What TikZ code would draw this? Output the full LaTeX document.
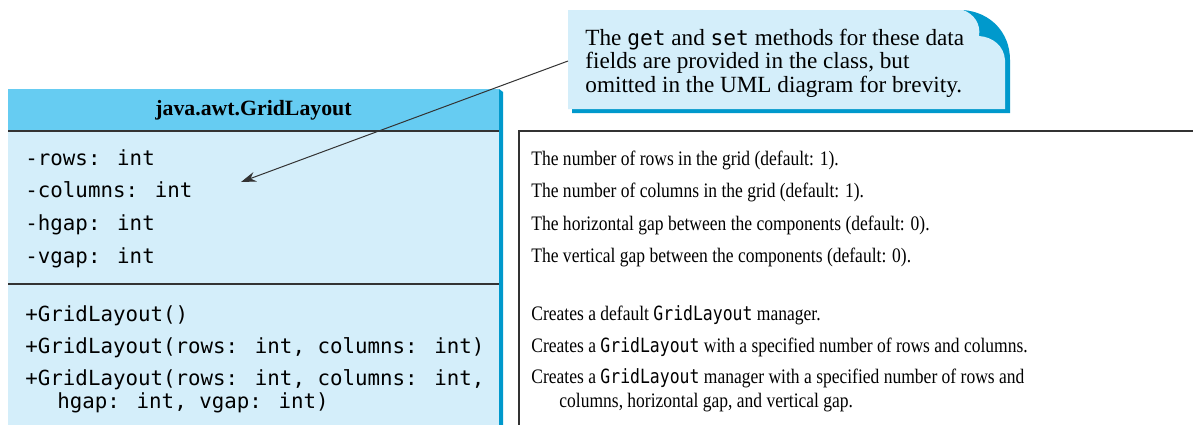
\documentclass[tikz,border=0pt]{standalone}
\usepackage{fontspec}
\setmainfont{Liberation Serif}
\newfontfamily\umlmono{DejaVu Sans Mono}
\newfontfamily\descfont[FakeStretch=0.85]{Liberation Serif}
\newfontfamily\descmono[FakeStretch=0.84]{DejaVu Sans Mono}
\usetikzlibrary{arrows.meta}
\definecolor{umlhead}{RGB}{102,204,242}
\definecolor{umlbody}{RGB}{212,238,250}
\definecolor{umlshade}{RGB}{0,153,204}
\definecolor{umlline}{RGB}{51,51,51}
\newcommand{\dcode}[1]{{\descmono\fontsize{9.8}{12}\selectfont #1}}
\newcommand{\ncode}[1]{{\umlmono\fontsize{10.6}{12}\selectfont #1}}

\begin{document}
\begin{tikzpicture}[x=0.5pt,y=-0.5pt,
  member/.style={anchor=base west,inner sep=0pt,font=\umlmono\fontsize{10.4}{12}\selectfont},
  desc/.style={anchor=base west,inner sep=0pt,font=\descfont\fontsize{10.3}{12}\selectfont},
  sepline/.style={draw=umlline,line width=1pt},
  pointer/.style={-{Stealth[length=7.5pt,width=5pt]},line width=0.5pt,umlline}]
\clip (0,0) rectangle (1193,424);
\fill[white] (0,0) rectangle (1193,424);
\fill[umlshade] (499,89) -- (503,92) -- (503,430) -- (499,430) -- cycle;
\fill[umlbody] (8,131) rectangle (499,430);
\fill[umlhead] (8,89) rectangle (499,131);
\draw[sepline] (8,131) -- (499,131);
\draw[sepline] (8,284) -- (499,284);
\draw[umlline,line width=0.7pt] (519,430) -- (519,131) -- (1200,131);
\fill[umlshade] (572,113) -- (1010,113) -- (1010,60) .. controls (1010,32) and (990,12) .. (963,10) -- (572,10) -- cycle;
\fill[umlbody] (568,10) -- (963,10) .. controls (974,14) and (981,24) .. (979,36) .. controls (993,37) and (1004,46) .. (1005,60) -- (1005,109) -- (568,109) -- cycle;
\node[anchor=base,inner sep=0pt,font=\bfseries\fontsize{10.9}{12}\selectfont] (title) at (253.5,115) {java.awt.GridLayout};
\node[member] (rows) at (25,165) {-rows: int};
\node[member] (cols) at (25,197) {-columns: int};
\node[member] (hgap) at (25,230) {-hgap: int};
\node[member] (vgap) at (25,263) {-vgap: int};
\node[member] (ctor) at (25,321) {+GridLayout()};
\node[member] (ctortwo) at (25,353) {+GridLayout(rows: int, columns: int)};
\node[member] (ctorfour) at (25,385) {+GridLayout(rows: int, columns: int,};
\node[member] (ctorfourb) at (57,408) {hgap: int, vgap: int)};
\node[desc] (drows) at (531,165) {The number of rows in the grid (default: 1).};
\node[desc] (dcols) at (531,197) {The number of columns in the grid (default: 1).};
\node[desc] (dhgap) at (531,230) {The horizontal gap between the components (default: 0).};
\node[desc] (dvgap) at (531,262) {The vertical gap between the components (default: 0).};
\node[desc] (dctor) at (531,320) {Creates a default \dcode{GridLayout} manager.};
\node[desc] (dctortwo) at (531,352) {Creates a \dcode{GridLayout} with a specified number of rows and columns.};
\node[desc] (dctorfour) at (531,383) {Creates a \dcode{GridLayout} manager with a specified number of rows and};
\node[desc] (dctorfourb) at (559,407) {columns, horizontal gap, and vertical gap.};
\node[anchor=west,inner xsep=8.5pt,inner ysep=0pt,align=left,font=\fontsize{11.6}{11.75}\selectfont] (note) at (568,63)
  {The \ncode{get} and \ncode{set} methods for these data\\fields are provided in the class, but\\omitted in the UML diagram for brevity.};
\coordinate (colarrow) at (241,182);
\draw[pointer] ([yshift=1pt]note.west) -- (colarrow);
\end{tikzpicture}
\end{document}
